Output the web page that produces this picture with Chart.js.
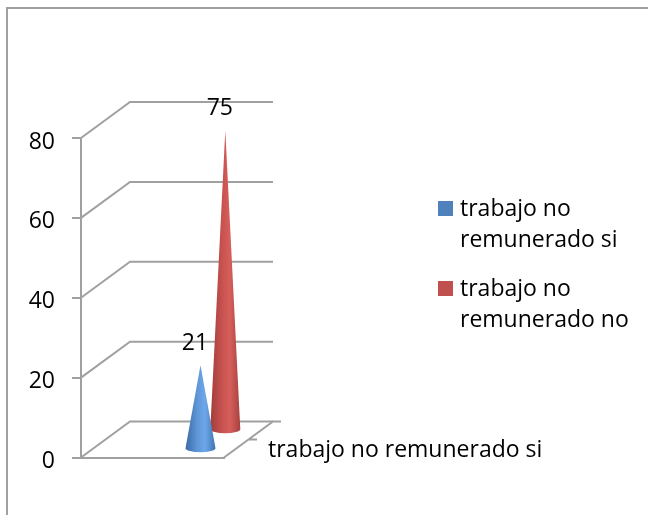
<!DOCTYPE html>
<html>
<head>
<meta charset="utf-8">
<script src="https://cdn.jsdelivr.net/npm/chart.js@4/dist/chart.umd.js"></script>
<style>
body{margin:0;background:#fff}
canvas{display:block}
</style>
</head>
<body>
<canvas id="myChart" width="648" height="515"></canvas>
<script>
var categorias = ['trabajo no remunerado si'];
var serieSi = [21];
var serieNo = [75];
var nombres = ['trabajo no remunerado si', 'trabajo no remunerado no'];
var lineasLeyenda = [['trabajo no', 'remunerado si'], ['trabajo no', 'remunerado no']];
var colores = ['#4f81bd', '#c0504d'];
var ticksY = [0, 20, 40, 60, 80];

var gris = '#a0a0a0';
var fuente = '23px "Open Sans"';

// desplazamiento 3D de cada serie (x, y) sobre el piso
var profundidad = [[48, -8.3], [72.8, -27.3]];
var rampas = [
	['#3a6aa4', '#5f97d8', '#6ea8ea', '#3f73b2'],
	['#a23d3b', '#c8524f', '#d65f5c', '#a8403e']
];

function cono(ctx, x, yBase, yPunta, r, ry, rampa) {
	var g = ctx.createLinearGradient(x - r, 0, x + r, 0);
	g.addColorStop(0, rampa[0]);
	g.addColorStop(0.4, rampa[1]);
	g.addColorStop(0.65, rampa[2]);
	g.addColorStop(1, rampa[3]);
	ctx.fillStyle = g;
	ctx.beginPath();
	ctx.moveTo(x, yPunta);
	ctx.lineTo(x + r, yBase);
	ctx.ellipse(x, yBase, r, ry, 0, 0, Math.PI);
	ctx.closePath();
	ctx.fill();
}

var paredes = {
	id: 'paredes',
	beforeDatasetsDraw: function(chart) {
		var ctx = chart.ctx, a = chart.chartArea, y = chart.scales.y;
		ctx.save();
		ctx.strokeStyle = gris;
		ctx.lineWidth = 2;
		// marco: solo se ve arriba y a la izquierda
		ctx.beginPath();
		ctx.moveTo(7, 515);
		ctx.lineTo(7, 8);
		ctx.lineTo(648, 8);
		ctx.stroke();
		ticksY.forEach(function(v) {
			var py = y.getPixelForValue(v);
			ctx.beginPath();
			ctx.moveTo(a.left, py);
			ctx.lineTo(a.left + 49, py - 36);
			ctx.lineTo(a.right + 49, py - 36);
			ctx.stroke();
		});
		// piso
		var py0 = y.getPixelForValue(0);
		ctx.beginPath();
		ctx.moveTo(a.right, py0);
		ctx.lineTo(a.right + 49, py0 - 36);
		ctx.lineTo(a.right + 57, py0 - 36);
		ctx.moveTo(a.right + 25, py0 - 18);
		ctx.lineTo(a.right + 33, py0 - 18);
		ctx.stroke();
		ctx.restore();
	},
	afterDatasetsDraw: function(chart) {
		var ctx = chart.ctx;
		ctx.save();
		// la serie del fondo primero
		[1, 0].forEach(function(i) {
			var bar = chart.getDatasetMeta(i).data[0];
			var d = profundidad[i];
			cono(ctx, bar.x + d[0], bar.base + d[1], bar.y + d[1], 15, 4, rampas[i]);
		});
		ctx.fillStyle = '#000';
		ctx.font = fuente;
		ctx.textAlign = 'center';
		ctx.textBaseline = 'middle';
		[0, 1].forEach(function(i) {
			var bar = chart.getDatasetMeta(i).data[0];
			var d = profundidad[i];
			ctx.fillText(chart.data.datasets[i].data[0], bar.x + d[0] - 5.5, bar.y + d[1] - 22);
		});
		// etiqueta de categoria
		ctx.textAlign = 'left';
		ctx.textBaseline = 'alphabetic';
		ctx.fillText(categorias[0], 268, 457);
		// leyenda
		var ys = [201, 281];
		lineasLeyenda.forEach(function(lineas, i) {
			ctx.fillStyle = colores[i];
			ctx.fillRect(438, ys[i], 15, 15);
			ctx.fillStyle = '#000';
			ctx.fillText(lineas[0], 460, ys[i] + 15);
			ctx.fillText(lineas[1], 460, ys[i] + 46);
		});
		ctx.restore();
	}
};

var grafica = new Chart(document.getElementById('myChart'), {
	type: 'bar',
	data: {
		labels: categorias,
		datasets: [
			{label: nombres[0], data: serieSi, backgroundColor: 'rgba(0,0,0,0)', grouped: false},
			{label: nombres[1], data: serieNo, backgroundColor: 'rgba(0,0,0,0)', grouped: false}
		]
	},
	options: {
		responsive: false,
		animation: false,
		layout: {padding: {top: 138, right: 424, bottom: 0, left: 0}},
		plugins: {legend: {display: false}, tooltip: {enabled: false}},
		scales: {
			x: {
				grid: {display: false},
				border: {color: gris, width: 2},
				ticks: {display: false},
				afterFit: function(s) { s.height = 57.5; }
			},
			y: {
				min: 0,
				max: 80,
				afterFit: function(s) { s.width = 81; },
				afterBuildTicks: function(s) { s.ticks = ticksY.map(function(v) { return {value: v}; }); },
				grid: {drawOnChartArea: false, color: gris, lineWidth: 2, tickLength: 9},
				border: {color: gris, width: 2},
				ticks: {color: '#000', font: {family: 'Open Sans', size: 23}, padding: 17, labelOffset: 4}
			}
		}
	},
	plugins: [paredes]
});
</script>
</body>
</html>
